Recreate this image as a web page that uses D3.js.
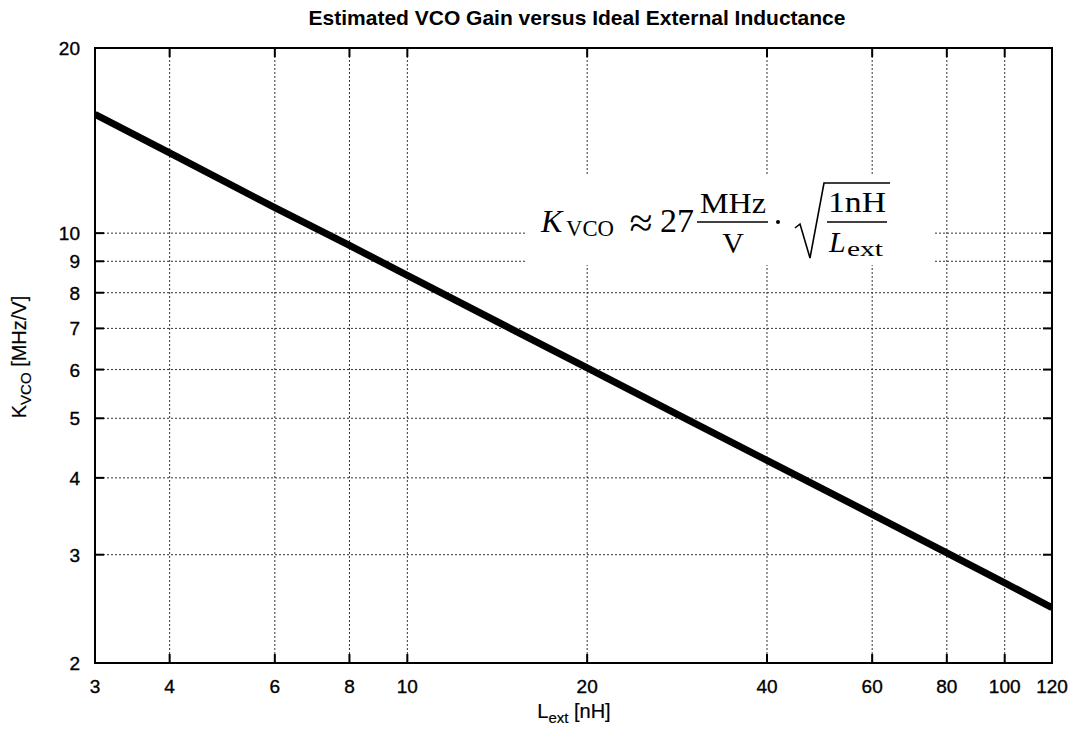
<!DOCTYPE html>
<meta charset="utf-8">
<style>
  body { margin: 0; background: #fff; }
  .tick-label { font-family: "Liberation Sans", Arial, sans-serif; font-size: 19px; fill: #000; stroke: #000; stroke-width: 0.35px; }
  .axis-label { font-family: "Liberation Sans", Arial, sans-serif; font-size: 20px; fill: #000; stroke: #000; stroke-width: 0.2px; }
  .title { font-family: "Liberation Sans", Arial, sans-serif; font-size: 21px; font-weight: bold; fill: #000; }
  .formula { font-family: "Liberation Serif", "Times New Roman", serif; fill: #000; }
</style>
<script src="https://d3js.org/d3.v7.min.js"></script>
<div id="chart"></div>
<script>
  // data
  const inductance = [3, 4, 6, 8, 10, 15, 20, 30, 40, 60, 80, 100, 120];
  const kvco = [15.6, 13.5, 11.0, 9.55, 8.54, 6.97, 6.04, 4.93, 4.27, 3.49, 3.02, 2.70, 2.46];
  const xTicks = [3, 4, 6, 8, 10, 20, 40, 60, 80, 100, 120];
  const yTicks = [2, 3, 4, 5, 6, 7, 8, 9, 10, 20];

  const W = 1080, H = 732;
  const margin = {top: 48, right: 28, bottom: 69, left: 95};
  const width = W - margin.left - margin.right,
        height = H - margin.top - margin.bottom;

  const svg = d3.select("#chart").append("svg")
      .attr("width", W).attr("height", H);

  const g = svg.append("g")
      .attr("transform", `translate(${margin.left}, ${margin.top})`);

  const x = d3.scaleLog().domain([3, 120]).range([0, width]);
  const y = d3.scaleLog().domain([2, 20]).range([height, 0]);

  // grid lines
  g.selectAll(".vgrid").data(xTicks.slice(1, -1)).join("line")
      .attr("x1", d => x(d)).attr("x2", d => x(d))
      .attr("y1", 0).attr("y2", height)
      .attr("stroke", "#333").attr("stroke-width", 1)
      .attr("stroke-dasharray", "2,2");
  g.selectAll(".hgrid").data(yTicks.slice(1, -1)).join("line")
      .attr("x1", 0).attr("x2", width)
      .attr("y1", d => y(d)).attr("y2", d => y(d))
      .attr("stroke", "#333").attr("stroke-width", 1)
      .attr("stroke-dasharray", "2,2");

  // ticks inside the frame (all four sides)
  g.selectAll(".xtb").data(xTicks).join("line")
      .attr("x1", d => x(d)).attr("x2", d => x(d))
      .attr("y1", height).attr("y2", height - 9)
      .attr("stroke", "#000").attr("stroke-width", 2);
  g.selectAll(".xtt").data(xTicks).join("line")
      .attr("x1", d => x(d)).attr("x2", d => x(d))
      .attr("y1", 0).attr("y2", 9)
      .attr("stroke", "#000").attr("stroke-width", 2);
  g.selectAll(".ytl").data(yTicks).join("line")
      .attr("x1", 0).attr("x2", 9)
      .attr("y1", d => y(d)).attr("y2", d => y(d))
      .attr("stroke", "#000").attr("stroke-width", 2);
  g.selectAll(".ytr").data(yTicks).join("line")
      .attr("x1", width).attr("x2", width - 9)
      .attr("y1", d => y(d)).attr("y2", d => y(d))
      .attr("stroke", "#000").attr("stroke-width", 2);

  // tick labels
  g.selectAll(".xlab").data(xTicks).join("text")
      .attr("class", "tick-label")
      .attr("x", d => x(d)).attr("y", height + 30)
      .attr("text-anchor", "middle")
      .text(d => d);
  g.selectAll(".ylab").data(yTicks).join("text")
      .attr("class", "tick-label")
      .attr("x", -15).attr("y", d => y(d) + 7)
      .attr("text-anchor", "end")
      .text(d => d);

  // formula box (white background hides grid)
  g.append("rect")
      .attr("x", 432).attr("y", 126).attr("width", 406).attr("height", 91)
      .attr("fill", "#fff");

  // the curve
  g.append("clipPath").attr("id", "clip")
    .append("rect").attr("width", width).attr("height", height);
  const line = d3.line().x(d => x(d)).y((d, i) => y(kvco[i]));
  g.append("path")
      .datum(inductance)
      .attr("clip-path", "url(#clip)")
      .attr("d", line)
      .attr("fill", "none")
      .attr("stroke", "#000")
      .attr("stroke-width", 7);

  // frame
  g.append("rect")
      .attr("width", width).attr("height", height)
      .attr("fill", "none").attr("stroke", "#000").attr("stroke-width", 2);

  // formula text
  const f = svg.append("g").attr("class", "formula");
  const stretch = (sel, len) => sel.attr("textLength", len).attr("lengthAdjust", "spacingAndGlyphs");

  f.append("text").attr("x", 541).attr("y", 232).style("font-size", "32px")
      .style("font-style", "italic").text("K");
  stretch(f.append("text").attr("x", 566).attr("y", 236).style("font-size", "23px").text("VCO"), 48);
  f.append("text").attr("x", 641).attr("y", 237).attr("text-anchor", "middle")
      .style("font-size", "42px").text("\u2248");
  stretch(f.append("text").attr("x", 660).attr("y", 232).style("font-size", "33px").text("27"), 34);
  // MHz / V
  stretch(f.append("text").attr("x", 700).attr("y", 213).style("font-size", "29px").text("MHz"), 66);
  f.append("line").attr("x1", 697).attr("x2", 768).attr("y1", 222).attr("y2", 222)
      .attr("stroke", "#000").attr("stroke-width", 1.5);
  f.append("text").attr("x", 733).attr("y", 253).attr("text-anchor", "middle").style("font-size", "30px").text("V");
  f.append("circle").attr("cx", 778).attr("cy", 222).attr("r", 2).attr("fill", "#000");
  // sqrt sign
  f.append("path")
      .attr("d", "M795,228 L800,224 L810,258 L824,183 L890,183")
      .attr("fill", "none").attr("stroke", "#000").attr("stroke-width", 1.6);
  stretch(f.append("text").attr("x", 828).attr("y", 212).style("font-size", "29px").text("1nH"), 58);
  f.append("line").attr("x1", 827).attr("x2", 887).attr("y1", 222).attr("y2", 222)
      .attr("stroke", "#000").attr("stroke-width", 1.5);
  f.append("text").attr("x", 829).attr("y", 252).style("font-size", "30px")
      .style("font-style", "italic").text("L");
  stretch(f.append("text").attr("x", 847).attr("y", 256).style("font-size", "22px").text("ext"), 36);

  // title
  svg.append("text").attr("class", "title")
      .attr("x", 577).attr("y", 25).attr("text-anchor", "middle")
      .text("Estimated VCO Gain versus Ideal External Inductance");

  // x axis label
  const xl = svg.append("text").attr("class", "axis-label")
      .attr("x", 574).attr("y", 718).attr("text-anchor", "middle");
  xl.append("tspan").text("L");
  xl.append("tspan").attr("dy", 5).style("font-size", "15px").text("ext");
  xl.append("tspan").attr("dy", -5).text(" [nH]");

  // y axis label
  const yl = svg.append("text").attr("class", "axis-label")
      .attr("transform", "translate(26, 357) rotate(-90)")
      .attr("text-anchor", "middle");
  yl.append("tspan").text("K");
  yl.append("tspan").attr("dy", 5).style("font-size", "15px").text("VCO");
  yl.append("tspan").attr("dy", -5).text(" [MHz/V]");
</script>
